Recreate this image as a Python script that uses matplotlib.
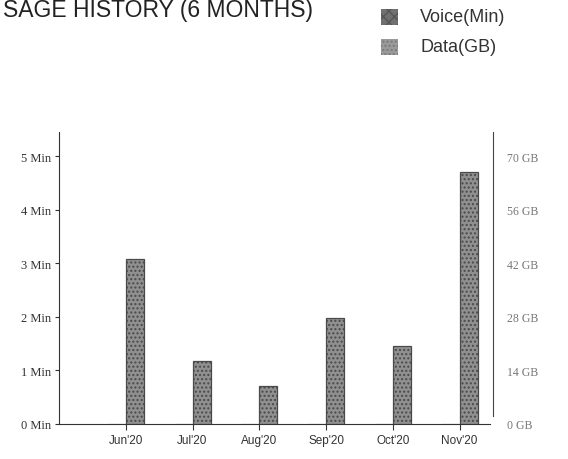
import matplotlib
matplotlib.use("Agg")
import matplotlib.pyplot as plt
from matplotlib.patches import Rectangle

months = ["Jun'20", "Jul'20", "Aug'20", "Sep'20", "Oct'20", "Nov'20"]
voice_min = [0, 0, 0, 0, 0, 0]
data_gb = [43.0, 16.5, 10.0, 27.7, 20.4, 65.8]
left_ticks = [0, 1, 2, 3, 4, 5]
left_labels = ["0 Min", "1 Min", "2 Min", "3 Min", "4 Min", "5 Min"]
right_ticks = [0, 14, 28, 42, 56, 70]
right_labels = ["0 GB", "14 GB", "28 GB", "42 GB", "56 GB", "70 GB"]

fig = plt.figure(figsize=(5.68, 4.6), dpi=100)
ax = fig.add_axes([59/568, 1-425/460, (493-59)/568, (425-133)/460])
ax2 = ax.twinx()

x = list(range(len(months)))
w = 0.27
ax.bar([i - w for i in x], voice_min, width=w, align="edge",
       color="#6e6e6e", edgecolor="#444444", linewidth=0.8)
ax2.bar(x, data_gb, width=w, align="edge", color="#909090",
        edgecolor="#4a4a4a", linewidth=0.9, hatch="....")

ax.set_xlim(-1.0, 5.5)
ax.set_ylim(0, 5.45)
ax2.set_ylim(0, 5.45 * 14)

ax.set_yticks(left_ticks)
ax.set_yticklabels(left_labels, family="Liberation Serif", fontsize=9, color="#333333")
ax2.set_yticks(right_ticks)
ax2.set_yticklabels(right_labels, family="Liberation Serif", fontsize=8.5, color="#777777")
ax.set_xticks(x)
ax.set_xticklabels(months, family="Liberation Sans", fontsize=8.5, color="#333333")

ax.tick_params(axis="y", length=3, width=0.8, pad=3, color="#333333")
ax.tick_params(axis="x", length=4, width=0.8, pad=3, color="#333333")
ax2.tick_params(axis="y", length=0, pad=10)

for a in (ax, ax2):
    a.spines["top"].set_visible(False)
ax.spines["right"].set_visible(False)
ax2.spines["left"].set_visible(False)
ax2.spines["bottom"].set_visible(False)
ax.spines["left"].set_color("#333333")
ax.spines["bottom"].set_color("#333333")
ax.spines["bottom"].set_bounds(-1.0, 5.45)
ax2.spines["right"].set_color("#444444")
ax2.spines["right"].set_bounds(2, 5.45 * 14)

fig.text(3/568, 1-11/460, "SAGE HISTORY (6 MONTHS)", family="Liberation Sans",
         fontsize=16.5, color="#222222", va="center", ha="left")

fig.patches.append(Rectangle((381/568, 1-26/460), 17/568, 16/460,
                             transform=fig.transFigure, facecolor="#707070",
                             edgecolor="#555555", linewidth=0, hatch="xxx"))
fig.patches.append(Rectangle((381/568, 1-56/460), 17/568, 16/460,
                             transform=fig.transFigure, facecolor="#9a9a9a",
                             edgecolor="#7a7a7a", linewidth=0, hatch="...."))
fig.text(420/568, 1-18/460, "Voice(Min)", family="Liberation Sans",
         fontsize=13, color="#333333", va="center")
fig.text(420/568, 1-47/460, "Data(GB)", family="Liberation Sans",
         fontsize=13, color="#333333", va="center")

fig.savefig("out.png", dpi=100)
